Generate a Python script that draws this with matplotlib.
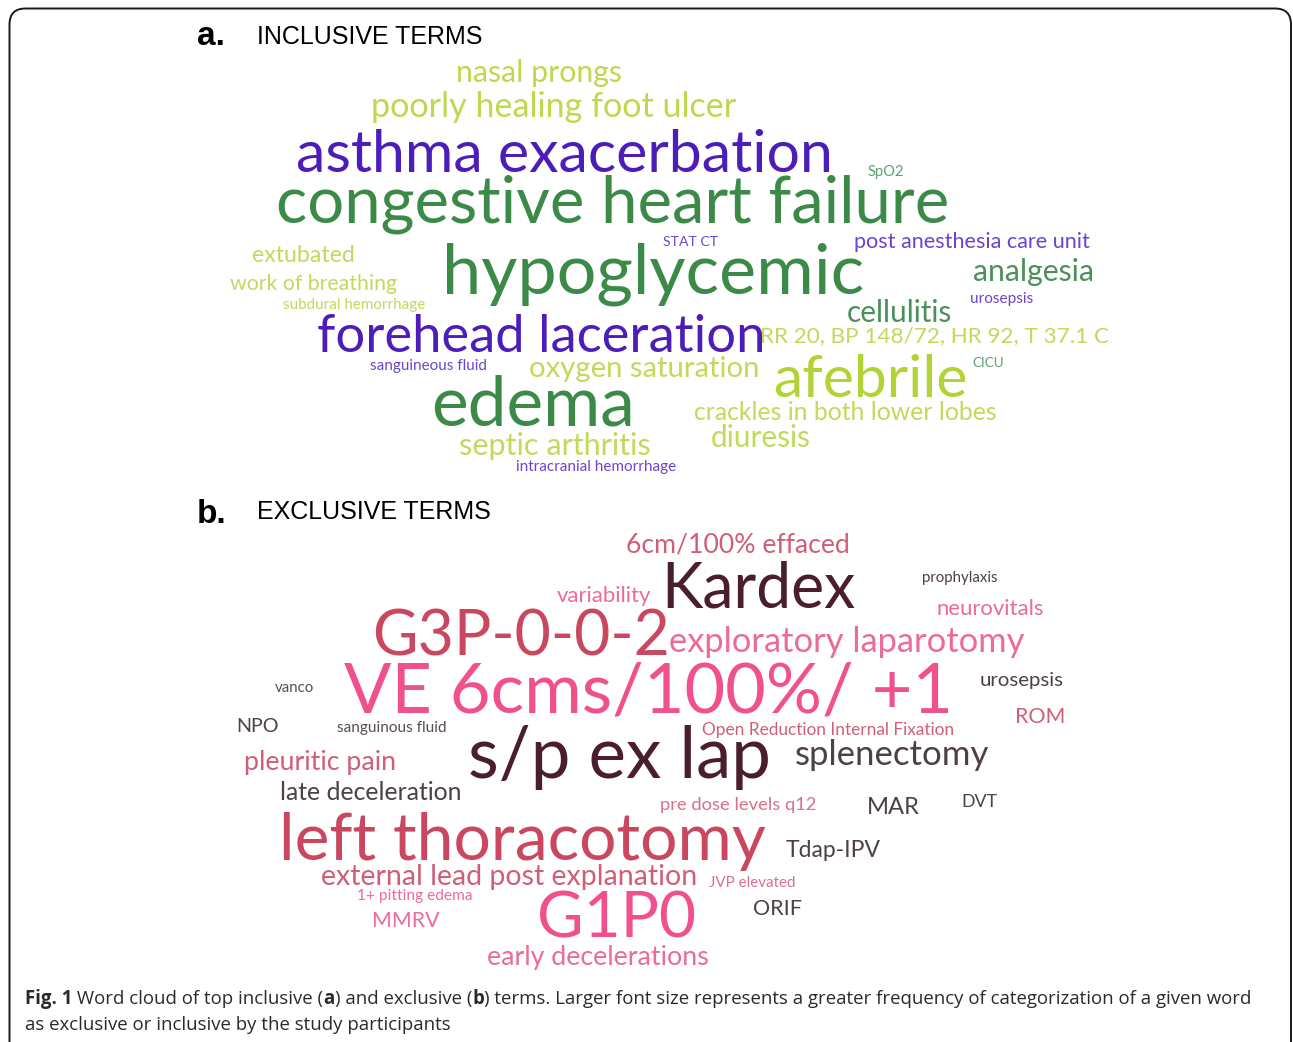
import matplotlib
matplotlib.use("Agg")
from matplotlib import pyplot as plt
from matplotlib.patches import FancyBboxPatch

## painel a - termos inclusivos
palavras_a = ["nasal prongs", "poorly healing foot ulcer", "asthma exacerbation",
              "congestive heart failure", "SpO2", "STAT CT", "post anesthesia care unit",
              "extubated", "hypoglycemic", "analgesia", "work of breathing",
              "subdural hemorrhage", "urosepsis", "cellulitis", "forehead laceration",
              "RR 20, BP 148/72, HR 92, T 37.1 C", "sanguineous fluid", "oxygen saturation",
              "afebrile", "CICU", "edema", "crackles in both lower lobes",
              "septic arthritis", "diuresis", "intracranial hemorrhage"]
tamanhos_a = [21.8, 24.6, 42.5, 47, 10.6, 10.1, 15.6, 16.7, 50.5, 21.7, 15.3,
              10.9, 11.1, 21.4, 37.8, 16.2, 11, 21.1, 42.3, 9.6, 50, 17.8,
              22.1, 21.4, 11]

## painel b - termos exclusivos
palavras_b = ["6cm/100% effaced", "variability", "Kardex", "prophylaxis", "neurovitals",
              "G3P-0-0-2", "exploratory laparotomy", "vanco", "VE 6cms/100%/ +1",
              "urosepsis", "NPO", "sanguinous fluid", "Open Reduction Internal Fixation",
              "ROM", "s/p ex lap", "splenectomy", "pleuritic pain", "late deceleration",
              "pre dose levels q12", "MAR", "DVT", "left thoracotomy", "Tdap-IPV",
              "external lead post explanation", "JVP elevated", "1+ pitting edema",
              "ORIF", "MMRV", "G1P0", "early decelerations"]
tamanhos_b = [19.2, 15.9, 45, 10.8, 15.9, 45, 24.8, 10.8, 50.5, 14.7, 14.2,
              11.1, 12.4, 15.4, 51, 25, 19.3, 17.8, 13.2, 17.1, 12.8, 47.5,
              16.5, 20.5, 10.9, 11.2, 15.5, 15.3, 46, 19.3]

# layout (centro x, linha de base y em pixels) e cores
pos_a = [(539, 82), (554, 117), (564, 172), (613, 222), (886, 176), (691, 246),
         (972, 248), (303, 262), (653, 293), (1034, 281), (313, 290), (354, 309),
         (1002, 303), (899, 322), (541, 352), (935, 342), (429, 370), (644, 377),
         (870, 397), (988, 367), (533, 425), (845, 420), (555, 455), (761, 447),
         (596, 471)]
cores_a = ["#bdd94e", "#bdd94e", "#4c1db8", "#3b8a48", "#5aa070", "#6b45d0",
           "#6b45d0", "#c0da5a", "#3b8a48", "#4a9058", "#c0da5a", "#c0da5a",
           "#6b45d0", "#4a9058", "#4c1db8", "#c0da5a", "#6b45d0", "#c0da5a",
           "#b2d335", "#5aa070", "#3b8a48", "#c0da5a", "#c0da5a", "#c0da5a",
           "#6b45d0"]

pos_b = [(738, 552), (604, 602), (758, 608), (960, 582), (990, 615), (521, 655),
         (847, 652), (294, 692), (649, 712), (1022, 686), (258, 732), (392, 732),
         (828, 735), (1040, 723), (619, 778), (892, 765), (320, 770), (371, 800),
         (738, 810), (893, 814), (979, 807), (522, 860), (833, 857), (509, 885),
         (752, 887), (415, 900), (778, 915), (406, 927), (616, 937), (598, 965)]
cores_b = ["#cf5f78", "#ec6a9c", "#4a1e2d", "#4e4046", "#ec6a9c", "#c9485f",
           "#ec6a9c", "#5a4e54", "#f0508c", "#4e4046", "#4e4046", "#5a4e54",
           "#cf5f78", "#cf5f78", "#4a1e2d", "#4e4046", "#cf5f78", "#4e4046",
           "#d8708a", "#4e4046", "#4e4046", "#c9485f", "#4e4046", "#cf5f78",
           "#d8708a", "#ec6a9c", "#4e4046", "#ec6a9c", "#f0508c", "#ec6a9c"]

fonte = "Lato"


def nuvem(ax, palavras, tamanhos, posicoes, cores):
  for palavra, tam, (x, y), cor in zip(palavras, tamanhos, posicoes, cores):
    ax.text(x, y, palavra, fontsize=tam, color=cor, family=fonte,
            ha="center", va="baseline")


def legenda(fig, ax):
  # partes da legenda: (texto, negrito)
  linha1 = [("Fig. 1", True), (" Word cloud of top inclusive (", False), ("a", True),
            (") and exclusive (", False), ("b", True),
            (") terms. Larger font size represents a greater frequency of categorization of a given word", False)]
  linha2 = [("as exclusive or inclusive by the study participants", False)]
  renderer = fig.canvas.get_renderer()
  for partes, y in [(linha1, 1004), (linha2, 1030)]:
    x = 25
    for texto, negrito in partes:
      t = ax.text(x, y, texto, fontsize=13.4, family="Open Sans", color="#2a2a2a",
                  weight="bold" if negrito else "normal", ha="left", va="baseline")
      bb = t.get_window_extent(renderer)
      x = x + bb.width


def main():
  fig = plt.figure(figsize=(12.93, 10.42), dpi=100)
  ax = fig.add_axes([0, 0, 1, 1])
  ax.set_xlim(0, 1293)
  ax.set_ylim(1042, 0)
  ax.axis("off")

  moldura = FancyBboxPatch((9.5, 8.5), 1281.5, 1080, boxstyle="round,pad=0,rounding_size=16",
                           fill=False, edgecolor="#1a1a1a", linewidth=1.4, clip_on=False)
  ax.add_patch(moldura)

  ax.text(197, 45, "a.", fontsize=24, weight="bold", family="Liberation Sans", va="baseline")
  ax.text(257, 44, "INCLUSIVE TERMS", fontsize=18, family="Liberation Sans", va="baseline")
  ax.text(197, 523, "b.", fontsize=24, weight="bold", family="Liberation Sans", va="baseline")
  ax.text(257, 519, "EXCLUSIVE TERMS", fontsize=18, family="Liberation Sans", va="baseline")

  nuvem(ax, palavras_a, tamanhos_a, pos_a, cores_a)
  nuvem(ax, palavras_b, tamanhos_b, pos_b, cores_b)
  legenda(fig, ax)

  fig.savefig("out.png", dpi=100, facecolor="white")


main()
